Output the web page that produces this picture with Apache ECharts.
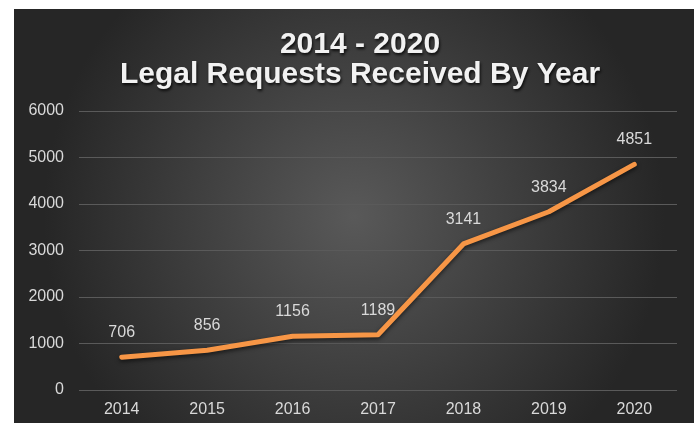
<!DOCTYPE html>
<html><head><meta charset="utf-8">
<script src="https://cdn.jsdelivr.net/npm/echarts@6/dist/echarts.min.js"></script>
<style>html,body{margin:0;padding:0;background:#fff}#c{width:700px;height:427px}</style>
</head><body><div id="c"></div>
<script>
const years = ['2014','2015','2016','2017','2018','2019','2020'];
const requests = [706, 856, 1156, 1189, 3141, 3834, 4851];
const yTicks = [0, 1000, 2000, 3000, 4000, 5000, 6000];
const titleText = '2014 - 2020\nLegal Requests Received By Year';

const chart = echarts.init(document.getElementById('c'), null, {renderer:'canvas'});
const font = 'Liberation Sans, Arial, sans-serif';
chart.setOption({
  backgroundColor: '#fff',
  graphic: [{
    type: 'rect', z: -10, silent: true,
    shape: {x: 14, y: 9, width: 680, height: 414},
    style: {fill: new echarts.graphic.RadialGradient(0.5, 0.5, 0.75, [
      {offset: 0, color: '#595959'},
      {offset: 1, color: '#262626'}
    ])}
  }],
  title: {
    text: titleText, left: 355, top: 25, textAlign: 'center',
    textStyle: {color: '#f2f2f2', fontSize: 30, fontWeight: 'bold', fontFamily: font, lineHeight: 30,
      textShadowColor: 'rgba(0,0,0,0.8)', textShadowBlur: 3, textShadowOffsetX: 1, textShadowOffsetY: 2}
  },
  grid: {left: 79, right: 23, top: 111, bottom: 37, containLabel: false},
  xAxis: {
    type: 'category', data: years, boundaryGap: true,
    axisLine: {show: false}, axisTick: {show: false},
    axisLabel: {color: '#d9d9d9', fontSize: 16, fontFamily: font, margin: 12}
  },
  yAxis: {
    type: 'value', min: yTicks[0], max: yTicks[yTicks.length-1], interval: 1000,
    axisLine: {show: false}, axisTick: {show: false},
    axisLabel: {color: '#d9d9d9', fontSize: 16, fontFamily: font, margin: 15, formatter: v => String(v)},
    splitLine: {lineStyle: {color: '#5a5a5a', width: 1}}
  },
  series: [{
    type: 'line', data: requests, symbol: 'circle', symbolSize: 1, showSymbol: true,
    lineStyle: {color: '#f79646', width: 5, shadowColor: 'rgba(0,0,0,0.6)', shadowBlur: 4, shadowOffsetY: 2, cap: 'round', join: 'round'},
    itemStyle: {color: '#f79646', opacity: 0},
    label: {show: true, position: 'top', distance: 16, color: '#d9d9d9', fontSize: 16, fontFamily: font, opacity: 1},
    animation: false
  }],
  animation: false
});
</script></body></html>
